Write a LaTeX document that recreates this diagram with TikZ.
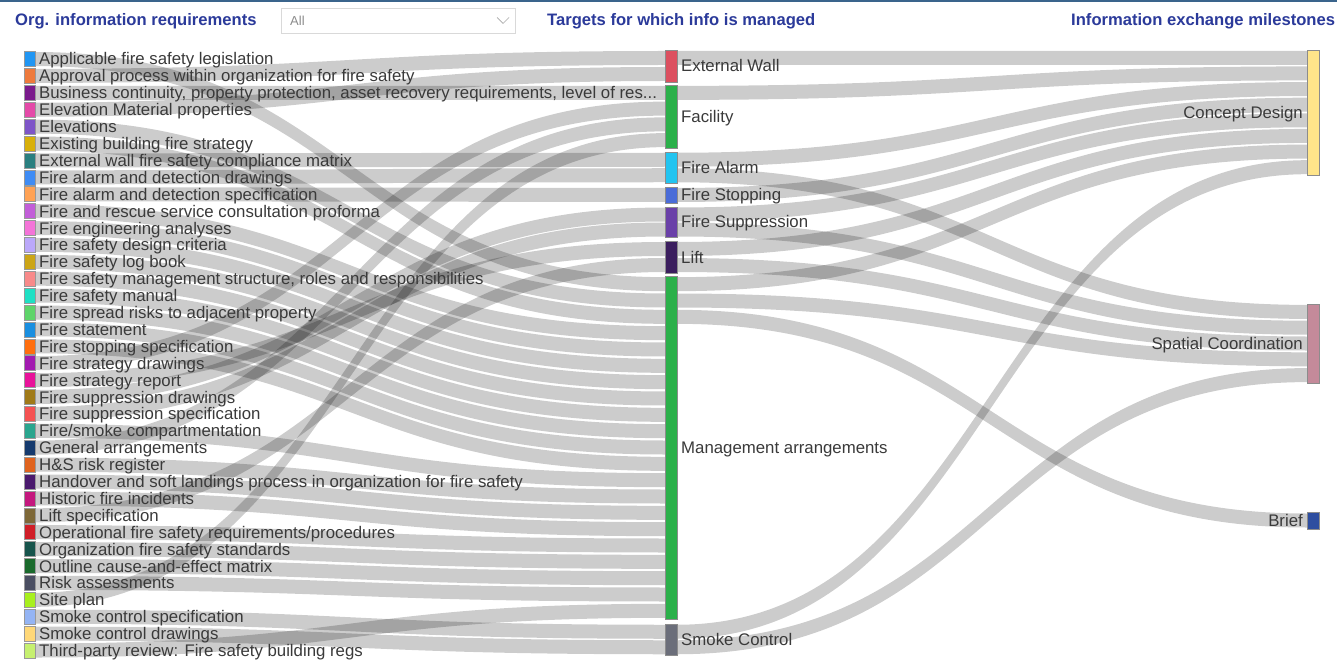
\documentclass[tikz,border=0pt]{standalone}
\usepackage{fontspec}
\setmainfont{Liberation Sans}
\usetikzlibrary{calc}
\pgfdeclarelayer{backdrop}
\pgfdeclarelayer{flows}
\pgfsetlayers{backdrop,flows,main}

% swatch colours of the requirement list
\definecolor{rq1}{HTML}{2196F3}
\definecolor{rq2}{HTML}{EE7A3C}
\definecolor{rq3}{HTML}{7A1A8C}
\definecolor{rq4}{HTML}{E44AA8}
\definecolor{rq5}{HTML}{7E55C8}
\definecolor{rq6}{HTML}{D8B00A}
\definecolor{rq7}{HTML}{2A7F80}
\definecolor{rq8}{HTML}{3F8CF5}
\definecolor{rq9}{HTML}{FFA255}
\definecolor{rq10}{HTML}{C25ED8}
\definecolor{rq11}{HTML}{F474D8}
\definecolor{rq12}{HTML}{BBA8FA}
\definecolor{rq13}{HTML}{CCA516}
\definecolor{rq14}{HTML}{F88A8A}
\definecolor{rq15}{HTML}{1FE0C4}
\definecolor{rq16}{HTML}{5ED46A}
\definecolor{rq17}{HTML}{1A8FE0}
\definecolor{rq18}{HTML}{FF6E0E}
\definecolor{rq19}{HTML}{A21AB0}
\definecolor{rq20}{HTML}{E8129A}
\definecolor{rq21}{HTML}{A07A18}
\definecolor{rq22}{HTML}{F55252}
\definecolor{rq23}{HTML}{2AA58E}
\definecolor{rq24}{HTML}{153A6E}
\definecolor{rq25}{HTML}{E0631E}
\definecolor{rq26}{HTML}{4B1A6E}
\definecolor{rq27}{HTML}{C4187E}
\definecolor{rq28}{HTML}{7E6838}
\definecolor{rq29}{HTML}{D01E28}
\definecolor{rq30}{HTML}{17544C}
\definecolor{rq31}{HTML}{1A6A2C}
\definecolor{rq32}{HTML}{4A4E62}
\definecolor{rq33}{HTML}{A8F01E}
\definecolor{rq34}{HTML}{94B4F4}
\definecolor{rq35}{HTML}{FFD878}
\definecolor{rq36}{HTML}{C6F070}
% target and milestone colours
\definecolor{cwall}{HTML}{DC5060}
\definecolor{cgreen}{HTML}{2BB04A}
\definecolor{calarm}{HTML}{22C4F0}
\definecolor{cstop}{HTML}{4A6CD8}
\definecolor{csupp}{HTML}{6A40A8}
\definecolor{clift}{HTML}{3B1E5E}
\definecolor{csmoke}{HTML}{6B6E7A}
\definecolor{cconcept}{HTML}{FFE58A}
\definecolor{cspatial}{HTML}{C48A9A}
\definecolor{cbrief}{HTML}{2E4EA0}
\definecolor{ink}{HTML}{3A3A3A}
\definecolor{headblue}{HTML}{2B3A9A}
\definecolor{topbar}{HTML}{3A648C}

\newcommand\labfont{\fontsize{16.8pt}{19pt}\selectfont}
\newcommand\headfont{\fontsize{16.6pt}{18pt}\selectfont\bfseries}

\tikzset{
  flow/.style={fill=black, fill opacity=0.2},
  swatch/.style={draw=black!40, line width=0.5pt, minimum width=11pt,
    minimum height=15pt, inner sep=0pt, outer sep=0pt},
  reqlab/.style={anchor=base west, inner sep=0pt, font=\labfont, text=ink},
  tbox/.style={draw=black!45, line width=0.5pt, minimum width=12pt,
    inner sep=0pt, outer sep=0pt},
  tlab/.style={anchor=base west, inner sep=0pt, font=\labfont, text=ink},
  mlab/.style={anchor=base east, inner sep=0pt, font=\labfont, text=ink},
  head/.style={anchor=base west, inner sep=0pt, font=\headfont, text=headblue},
  ddbox/.style={draw=black!15, fill=white, minimum width=234pt,
    minimum height=25pt, inner sep=0pt, outer sep=0pt},
  ddtext/.style={anchor=base west, inner sep=0pt,
    font=\fontsize{13pt}{15pt}\selectfont, text=black!45},
  chev/.style={draw=black!35, line width=0.7pt},
}

% a Sankey band of constant vertical thickness between two ports
\def\flowhalf{7pt}
\newcommand\sklink[2]{%
  \fill[flow] let \p1=(#1), \p2=(#2), \n1={0.5*(\x1+\x2)} in
    (\x1,{\y1+\flowhalf}) .. controls ({\n1*1pt},{\y1+\flowhalf}) and ({\n1*1pt},{\y2+\flowhalf}) .. (\x2,{\y2+\flowhalf})
    -- (\x2,{\y2-\flowhalf}) .. controls ({\n1*1pt},{\y2-\flowhalf}) and ({\n1*1pt},{\y1-\flowhalf}) .. (\x1,{\y1-\flowhalf}) -- cycle;}
% requirement #1 into slot #3 of #4 on target #2
\newcommand\feed[4]{\sklink{L#1.east}{$(#2.north west)!{(#3+0.5)/#4}!(#2.south west)$}}
% target #1 (slot #2 of #3) into milestone #4 (slot #5 of #6)
\newcommand\flowto[6]{\sklink{$(#1.north east)!{(#2+0.5)/#3}!(#1.south east)$}{$(#4.north west)!{(#5+0.5)/#6}!(#4.south west)$}}

\newcommand\reqitem[3]{%
  \node[swatch, fill=#2] (L#1) at (29.5,{59+16.9*(#1-1)}) {};
  \node[reqlab] (T#1) at ([xshift=4pt,yshift=-6pt]L#1.east) {#3};}
\newcommand\tgt[5]{%
  \node[tbox, fill=#2, minimum height={#4-#3}] (#1) at (671,{(#3+#4)/2}) {};
  \node[tlab] (#1t) at ([xshift=4pt,yshift=-6pt]#1.east) {#5};}
\newcommand\mile[5]{%
  \node[tbox, fill=#2, minimum height={#4-#3}] (#1) at (1313,{(#3+#4)/2}) {};
  \node[mlab] (#1t) at ([xshift=-4pt,yshift=-6pt]#1.west) {#5};}

\begin{document}
\begin{tikzpicture}[x=1pt,y=-1pt]
\useasboundingbox (0,0) rectangle (1337,660);
\begin{pgfonlayer}{backdrop}
  \fill[white] (0,0) rectangle (1337,660);
\end{pgfonlayer}
\draw[topbar, line width=2.5pt] (0,1) -- (1337,1);

% column headings and filter
\node[head] (h1) at (15,25.5) {Org. information requirements};
\node[ddbox] (dd) at (398,20.5) {};
\node[ddtext] (ddt) at ([xshift=9pt,yshift=-5pt]dd.west) {All};
\draw[chev] ([xshift=-18pt,yshift=3pt]dd.east) -- ([xshift=-12pt,yshift=-3pt]dd.east) -- ([xshift=-6pt,yshift=3pt]dd.east);
\node[head] (h2) at (547,25.5) {Targets for which info is managed};
\node[head] (h3) at (1071,25.5) {Information exchange milestones};

% requirements
\reqitem{1}{rq1}{Applicable fire safety legislation}
\reqitem{2}{rq2}{Approval process within organization for fire safety}
\reqitem{3}{rq3}{Business continuity, property protection, asset recovery requirements, level of res...}
\reqitem{4}{rq4}{Elevation Material properties}
\reqitem{5}{rq5}{Elevations}
\reqitem{6}{rq6}{Existing building fire strategy}
\reqitem{7}{rq7}{External wall fire safety compliance matrix}
\reqitem{8}{rq8}{Fire alarm and detection drawings}
\reqitem{9}{rq9}{Fire alarm and detection specification}
\reqitem{10}{rq10}{Fire and rescue service consultation proforma}
\reqitem{11}{rq11}{Fire engineering analyses}
\reqitem{12}{rq12}{Fire safety design criteria}
\reqitem{13}{rq13}{Fire safety log book}
\reqitem{14}{rq14}{Fire safety management structure, roles and responsibilities}
\reqitem{15}{rq15}{Fire safety manual}
\reqitem{16}{rq16}{Fire spread risks to adjacent property}
\reqitem{17}{rq17}{Fire statement}
\reqitem{18}{rq18}{Fire stopping specification}
\reqitem{19}{rq19}{Fire strategy drawings}
\reqitem{20}{rq20}{Fire strategy report}
\reqitem{21}{rq21}{Fire suppression drawings}
\reqitem{22}{rq22}{Fire suppression specification}
\reqitem{23}{rq23}{Fire/smoke compartmentation}
\reqitem{24}{rq24}{General arrangements}
\reqitem{25}{rq25}{H\&S risk register}
\reqitem{26}{rq26}{Handover and soft landings process in organization for fire safety}
\reqitem{27}{rq27}{Historic fire incidents}
\reqitem{28}{rq28}{Lift specification}
\reqitem{29}{rq29}{Operational fire safety requirements/procedures}
\reqitem{30}{rq30}{Organization fire safety standards}
\reqitem{31}{rq31}{Outline cause-and-effect matrix}
\reqitem{32}{rq32}{Risk assessments}
\reqitem{33}{rq33}{Site plan}
\reqitem{34}{rq34}{Smoke control specification}
\reqitem{35}{rq35}{Smoke control drawings}
\reqitem{36}{rq36}{Third-party review: Fire safety building regs}

% targets
\tgt{MEW}{cwall}{50}{82}{External Wall}
\tgt{MFA}{cgreen}{85}{148}{Facility}
\tgt{MAL}{calarm}{152}{183}{Fire Alarm}
\tgt{MST}{cstop}{187}{203}{Fire Stopping}
\tgt{MSU}{csupp}{207}{237}{Fire Suppression}
\tgt{MLI}{clift}{241}{273}{Lift}
\tgt{MMA}{cgreen}{276}{619}{Management arrangements}
\tgt{MSC}{csmoke}{624}{655}{Smoke Control}

% milestones
\mile{RCD}{cconcept}{50}{175}{Concept Design}
\mile{RSC}{cspatial}{304}{383}{Spatial Coordination}
\mile{RBR}{cbrief}{512}{529}{Brief}

\begin{pgfonlayer}{flows}
  % requirements -> targets
  \feed{2}{MEW}{0}{2}   \feed{4}{MEW}{1}{2}
  \feed{3}{MFA}{0}{4}   \feed{19}{MFA}{1}{4}  \feed{24}{MFA}{2}{4}  \feed{33}{MFA}{3}{4}
  \feed{7}{MAL}{0}{2}   \feed{8}{MAL}{1}{2}
  \feed{9}{MST}{0}{1}
  \feed{21}{MSU}{0}{2}  \feed{22}{MSU}{1}{2}
  \feed{20}{MLI}{0}{2}  \feed{28}{MLI}{1}{2}
  \feed{34}{MSC}{0}{2}  \feed{35}{MSC}{1}{2}
  \feed{1}{MMA}{0}{21}  \feed{5}{MMA}{1}{21}  \feed{6}{MMA}{2}{21}
  \feed{10}{MMA}{3}{21} \feed{11}{MMA}{4}{21} \feed{12}{MMA}{5}{21}
  \feed{13}{MMA}{6}{21} \feed{14}{MMA}{7}{21} \feed{15}{MMA}{8}{21}
  \feed{16}{MMA}{9}{21} \feed{17}{MMA}{10}{21} \feed{18}{MMA}{11}{21}
  \feed{23}{MMA}{12}{21} \feed{25}{MMA}{13}{21} \feed{26}{MMA}{14}{21}
  \feed{27}{MMA}{15}{21} \feed{29}{MMA}{16}{21} \feed{30}{MMA}{17}{21}
  \feed{31}{MMA}{18}{21} \feed{32}{MMA}{19}{21} \feed{36}{MMA}{20}{21}
  % targets -> milestones
  \flowto{MEW}{0}{2}{RCD}{0}{8}
  \flowto{MFA}{0}{4}{RCD}{1}{8}
  \flowto{MAL}{0}{2}{RCD}{2}{8}
  \flowto{MAL}{1}{2}{RSC}{0}{5}
  \flowto{MST}{0}{1}{RCD}{3}{8}
  \flowto{MSU}{0}{2}{RCD}{4}{8}
  \flowto{MSU}{1}{2}{RSC}{1}{5}
  \flowto{MLI}{0}{2}{RCD}{5}{8}
  \flowto{MLI}{1}{2}{RSC}{2}{5}
  \flowto{MMA}{0}{21}{RCD}{6}{8}
  \flowto{MMA}{1}{21}{RSC}{3}{5}
  \flowto{MMA}{2}{21}{RBR}{0}{1}
  \flowto{MSC}{0}{2}{RCD}{7}{8}
  \flowto{MSC}{1}{2}{RSC}{4}{5}
\end{pgfonlayer}
\end{tikzpicture}
\end{document}
